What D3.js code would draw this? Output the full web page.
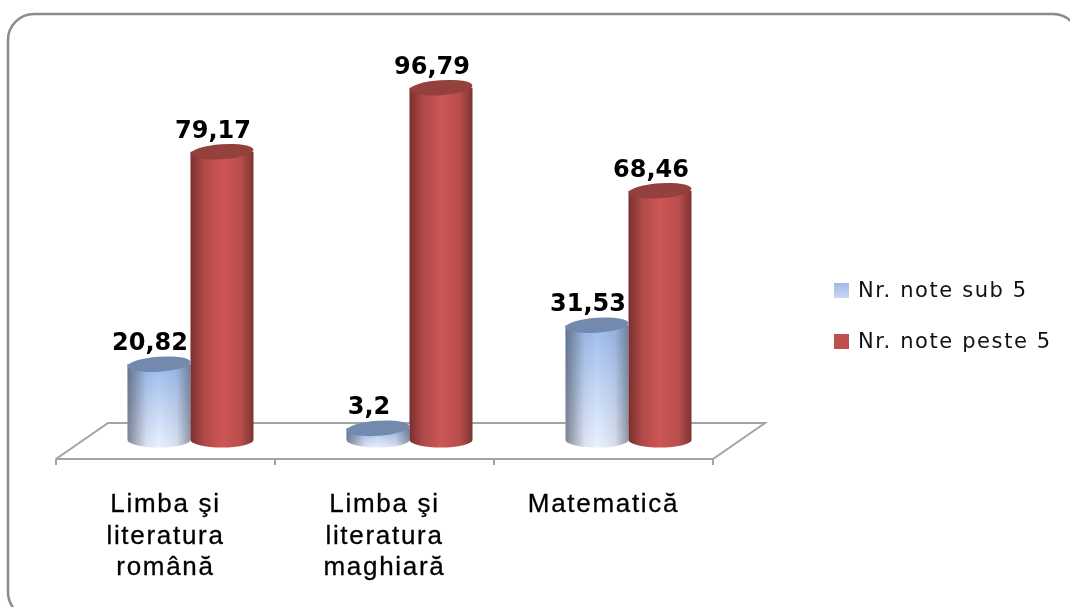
<!DOCTYPE html>
<html>
<head>
<meta charset="utf-8">
<script src="https://d3js.org/d3.v7.min.js"></script>
<style>
body { margin: 0; background: #fff; }
svg { display: block; filter: blur(0.4px); }
</style>
</head>
<body>
<script>
let categories = [["Limba şi", "literatura", "română"], ["Limba şi", "literatura", "maghiară"], ["Matematică"]];
let seriesNames = ["Nr. note sub 5", "Nr. note peste 5"];
let sub5 = [20.82, 3.2, 31.53];
let peste5 = [79.17, 96.79, 68.46];
let valueLabels = [["20,82", "3,2", "31,53"], ["79,17", "96,79", "68,46"]];

let width = 1070, height = 607;
let floor = {left: 56, right: 713, front: 459, back: 423, depthX: 52, depthShift: 25};
let base = 440;
let ry = 7.5;

let svg = d3.select("body").append("svg")
    .attr("width", width)
    .attr("height", height);

let defs = svg.append("defs");

function linear(id, horizontal, stops) {
    let g = defs.append("linearGradient").attr("id", id)
        .attr("x1", 0).attr("y1", 0)
        .attr("x2", horizontal ? 1 : 0).attr("y2", horizontal ? 0 : 1);
    stops.forEach(function(s) {
        g.append("stop").attr("offset", s[0]).attr("stop-color", s[1]).attr("stop-opacity", s[2] === undefined ? 1 : s[2]);
    });
}
linear("blueFill", false, [[0, "#9dbdee"], [1, "#eaf1ff"]]);
linear("redFill", true, [[0, "#7a302e"], [0.22, "#b04a48"], [0.5, "#cd5555"], [0.8, "#b84e4c"], [1, "#7c3431"]]);
linear("blueShade", true, [[0, "#39404c", 0.6], [0.3, "#39404c", 0.08], [0.5, "#39404c", 0], [0.78, "#39404c", 0.1], [1, "#39404c", 0.5]]);
linear("legendBlue", false, [[0, "#9fb9e6"], [1, "#c9d8f3"]]);

// outer frame, runs off the right and bottom of the picture
svg.append("rect")
    .attr("x", 8).attr("y", 14)
    .attr("width", 1071).attr("height", 604)
    .attr("rx", 26)
    .attr("fill", "#fff")
    .attr("stroke", "#8c8c8c")
    .attr("stroke-width", 2.5);

// floor of the 3d plot
let floorGroup = svg.append("g").attr("fill", "none").attr("stroke", "#a3a3a3").attr("stroke-width", 2);
floorGroup.append("path").attr("d", d3.line()([
    [floor.left, floor.front], [floor.left + floor.depthX, floor.back],
    [floor.right + floor.depthX, floor.back], [floor.right, floor.front], [floor.left, floor.front]
]));

let x0 = d3.scaleBand().domain(d3.range(categories.length)).range([floor.left, floor.right]);
let y = d3.scaleLinear().domain([0, 100]).range([base, base - 364]);
let x1 = d3.scaleBand().domain([0, 1]).range([-63, 63]);

d3.range(categories.length + 1).forEach(function(i) {
    let tx = floor.left + i * x0.bandwidth();
    floorGroup.append("line").attr("x1", tx).attr("x2", tx).attr("y1", floor.front).attr("y2", floor.front + 6);
});

function cylinder(g, cx, top, w, side, shade, cap) {
    let left = cx - w / 2, right = cx + w / 2;
    let d = "M" + left + "," + top + " L" + left + "," + base +
        " A" + (w / 2) + "," + ry + " 0 0 0 " + right + "," + base +
        " L" + right + "," + top + " Z";
    g.append("path").attr("d", d).attr("fill", side);
    if (shade) g.append("path").attr("d", d).attr("fill", shade);
    g.append("ellipse")
        .attr("cx", cx).attr("cy", top)
        .attr("rx", w / 2).attr("ry", ry)
        .attr("transform", "rotate(-4 " + cx + " " + top + ")")
        .attr("fill", cap);
}

[sub5, peste5].forEach(function(values, s) {
    values.forEach(function(v, i) {
        let cx = x0(i) + x0.bandwidth() / 2 + floor.depthShift + x1(s) + x1.bandwidth() / 2;
        let g = svg.append("g");
        if (s === 0) cylinder(g, cx, y(v), x1.bandwidth(), "url(#blueFill)", "url(#blueShade)", "#7389ae");
        else cylinder(g, cx, y(v), x1.bandwidth(), "url(#redFill)", null, "#94403d");
    });
});

// value labels go on top of every bar
[sub5, peste5].forEach(function(values, s) {
    values.forEach(function(v, i) {
        let cx = x0(i) + x0.bandwidth() / 2 + floor.depthShift + x1(s) + x1.bandwidth() / 2;
        svg.append("text")
            .attr("x", cx - 9)
            .attr("y", y(v) - 14)
            .attr("text-anchor", "middle")
            .attr("fill", "#000")
            .style("font-family", "'DejaVu Sans', sans-serif")
            .style("font-size", "24px")
            .style("font-weight", "bold")
            .text(valueLabels[s][i]);
    });
});

// category labels
categories.forEach(function(lines, i) {
    let t = svg.append("text")
        .attr("text-anchor", "middle")
        .attr("fill", "#000")
        .attr("stroke", "#000")
        .attr("stroke-width", 0.3)
        .style("font-family", "'Liberation Sans', Arial, sans-serif")
        .style("font-size", "26px")
        .style("letter-spacing", "1.7px");
    lines.forEach(function(line, k) {
        t.append("tspan")
            .attr("x", x0(i) + x0.bandwidth() / 2)
            .attr("y", 512 + k * 31.5)
            .text(line);
    });
});

// legend
seriesNames.forEach(function(name, s) {
    let ly = 283 + s * 51;
    svg.append("rect")
        .attr("x", 834).attr("y", ly)
        .attr("width", 15).attr("height", 15)
        .attr("fill", s === 0 ? "url(#legendBlue)" : "#c0504d");
    svg.append("text")
        .attr("x", 858).attr("y", ly + 14)
        .attr("fill", "#111")
        .style("font-family", "'DejaVu Sans', sans-serif")
        .style("font-size", "21px")
        .style("letter-spacing", "1.6px")
        .text(name);
});
</script>
</body>
</html>
